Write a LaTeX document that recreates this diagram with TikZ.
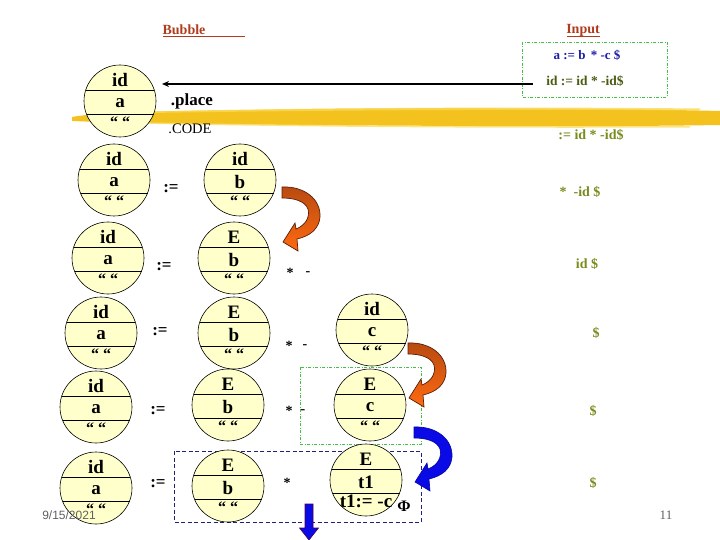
\documentclass[tikz,border=0pt]{standalone}
\usepackage{fontspec}
\setmainfont{Liberation Serif}
\newfontfamily\datefont{Liberation Sans}
\usetikzlibrary{arrows.meta}
\definecolor{bubfill}{HTML}{FFFFCC}
\definecolor{brushA}{HTML}{F3C21E}
\definecolor{brushB}{HTML}{F8D955}
\definecolor{olivec}{HTML}{7A8A1C}
\definecolor{darkgreen}{HTML}{4A5C14}
\definecolor{bluetext}{HTML}{1C1CA8}
\definecolor{titlered}{HTML}{B03C1E}
\definecolor{boxgreen}{HTML}{44C044}
\definecolor{boxblue}{HTML}{20207A}
\definecolor{orangeA}{HTML}{B84A10}
\definecolor{orangeB}{HTML}{FF6A10}
\definecolor{orangeline}{HTML}{5A1E08}
\definecolor{arrblue}{HTML}{0A0AE6}
\definecolor{grayt}{HTML}{606060}
\tikzset{
  bubble/.style={circle, draw=black, line width=0.6pt, fill=bubfill, minimum size=72pt, inner sep=0pt},
  chord/.style={line width=0.6pt},
  bt/.style={font=\fontsize{19}{22}\selectfont\bfseries, inner sep=0pt},
  bq/.style={font=\fontsize{16}{18}\selectfont\bfseries, inner sep=0pt},
  opnode/.style={font=\fontsize{17}{19}\selectfont\bfseries, inner sep=0pt},
  starnode/.style={font=\fontsize{14}{16}\selectfont\bfseries, inner sep=0pt},
  olivetext/.style={text=olivec, font=\fontsize{14}{16}\selectfont\bfseries, inner sep=0pt},
  titletext/.style={text=titlered, font=\fontsize{14}{16}\selectfont\bfseries, inner sep=0pt},
  greenbox/.style={draw=boxgreen, line width=0.7pt, dash pattern=on 3pt off 1.5pt on 1pt off 1.5pt},
  bluebox/.style={draw=boxblue, line width=0.8pt, dash pattern=on 4pt off 2.5pt},
  orangearrow/.style={top color=orangeA, bottom color=orangeB, draw=orangeline, line width=0.7pt},
  bluearrow/.style={fill=arrblue, draw=arrblue!70!black, line width=0.6pt},
}
\newcommand{\bubl}[7][bq]{%
  \node[bubble] (#2) at (#3,#4) {};
  \draw[chord] ([xshift=-34pt,yshift=11pt]#2.center) -- ([xshift=34pt,yshift=11pt]#2.center);
  \draw[chord] ([xshift=-33.5pt,yshift=-13pt]#2.center) -- ([xshift=33.5pt,yshift=-13pt]#2.center);
  \node[bt] (#2-t) at ([yshift=21pt]#2.center) {#5};
  \node[bt] (#2-m) at ([yshift=-2pt]#2.center) {#6};
  \node[#1] (#2-b) at ([yshift=-21pt]#2.center) {#7};
}
\newcommand{\curvearr}[3]{%
  \begin{scope}[shift={(#1,#2)}]
    \path[#3] (0,0) .. controls (22,-1) and (39,12) .. (38,30)
      .. controls (37,42) and (28,49) .. (15,52)
      -- (16,64) -- (1,55) -- (13,36) -- (14,42)
      .. controls (24,38) and (28,30) .. (26,22)
      .. controls (23,14) and (12,11) .. (0,11) -- cycle;
  \end{scope}}
\begin{document}
\begin{tikzpicture}[x=1pt,y=-1pt]
\useasboundingbox (0,0) rectangle (720,540);
% highlighter brush band
\fill[brushA] (72,117) .. controls (100,112) and (160,111) .. (250,110)
  .. controls (400,107) and (600,108) .. (720,111) -- (720,125)
  .. controls (600,127) and (450,126) .. (300,125)
  .. controls (200,124) and (120,123) .. (72,121) -- cycle;
\fill[brushB, opacity=0.8] (150,111.5) .. controls (300,108) and (500,106.5) .. (700,108.5) -- (700,110.5)
  .. controls (500,109) and (300,110.5) .. (150,113) -- cycle;
\fill[brushB, opacity=0.7] (90,121) .. controls (250,124.5) and (450,127) .. (690,126) -- (690,127.5)
  .. controls (450,128.5) and (250,126.5) .. (90,122.5) -- cycle;
% titles
\node[titletext] (bubbletitle) at (184,30) {Bubble};
\draw[titlered, line width=1pt] (163,36.5) -- (245,36.5);
\node[titletext] (inputtitle) at (583,30) {Input};
\draw[titlered, line width=1pt] (567,36.5) -- (600,36.5);
% input box
\draw[greenbox] (522,42) rectangle (667,97);
\node[text=bluetext, font=\fontsize{13}{15}\selectfont\bfseries, inner sep=0pt] (inA) at (587,55) {a := b \,* -c \$};
\node[text=darkgreen, font=\fontsize{13.5}{15}\selectfont\bfseries, inner sep=0pt] (inB) at (585,81) {id := id * -id\$};
% long arrow
\coordinate (arrS) at (533,84);
\coordinate (arrE) at (162,84);
\draw[line width=1.8pt, -{Stealth[length=7pt,width=6pt]}] (arrS) -- (arrE);
\node[font=\fontsize{17}{20}\selectfont\bfseries, inner sep=0pt] (place) at (192,101) {.place};
\node[font=\fontsize{14.5}{17}\selectfont, inner sep=0pt] (code) at (190,129) {.CODE};
% olive input remainders
\node[olivetext] (r1) at (591,135) {:= id * -id\$};
\node[olivetext] (r2) at (580,192) {* \ -id \$};
\node[olivetext] (r3) at (587,264) {id \$};
\node[olivetext] (r4) at (596,333) {\$};
\node[olivetext] (r5) at (593,411) {\$};
\node[olivetext] (r6) at (593,483) {\$};
% bubbles
\bubl{A1}{120}{101}{id}{a}{“ “}
\bubl{A2}{114}{180}{id}{a}{“ “}
\bubl{B2}{240}{180}{id}{b}{“ “}
\node[opnode] (op2) at (171,189) {:=};
\bubl{A3}{108}{258}{id}{a}{“ “}
\bubl{B3}{234}{258}{E}{b}{“ “}
\node[opnode] (op3) at (164,267) {:=};
\node[starnode] (st3) at (290,273) {*};
\node[starnode] (ds3) at (308,274) {-};
\bubl{A4}{101}{333}{id}{a}{“ “}
\bubl{B4}{234}{333}{E}{b}{“ “}
\bubl{C4}{372}{330}{id}{c}{“ “}
\node[opnode] (op4) at (160,332) {:=};
\node[starnode] (st4) at (289,346) {*};
\node[starnode] (ds4) at (305,347) {-};
% green dashed frame row 5
\draw[greenbox] (300,367) rectangle (421,444);
\bubl{A5}{96}{407}{id}{a}{“ “}
\bubl{B5}{228}{405}{E}{b}{“ “}
\bubl{C5}{370}{405}{E}{c}{“ “}
\node[opnode] (op5) at (158,411) {:=};
\node[starnode] (st5) at (289,411) {*};
\node[starnode] (ds5) at (303,412) {-};
% blue dashed frame row 6
\draw[bluebox] (174,451) rectangle (421,522);
\bubl{A6}{96}{488}{id}{a}{“ “}
\bubl{B6}{228}{486}{E}{b}{“ “}
\bubl[bt]{C6}{366}{480}{E}{t1}{t1:= -c}
\node[opnode] (op6) at (158,484) {:=};
\node[starnode] (st6) at (287,483) {*};
\node[font=\fontsize{16}{18}\selectfont\bfseries, inner sep=0pt] (phi) at (404,506) {Φ};
% curved arrows
\curvearr{282}{187}{orangearrow}
\curvearr{408}{343}{orangearrow}
\curvearr{414}{427}{bluearrow}
% blue down arrow
\path[fill=arrblue, draw=violet!60!black, line width=0.6pt] (305,504) -- (313,504) -- (313,528) -- (318.5,528) -- (309,540) -- (299.5,528) -- (305,528) -- cycle;
% footer
\node[text=grayt, font=\datefont\fontsize{12}{14}\selectfont, inner sep=0pt] (date) at (69,515) {9/15/2021};
\node[text=grayt, font=\fontsize{13}{15}\selectfont, inner sep=0pt] (pagenum) at (666,515) {11};
\end{tikzpicture}
\end{document}
